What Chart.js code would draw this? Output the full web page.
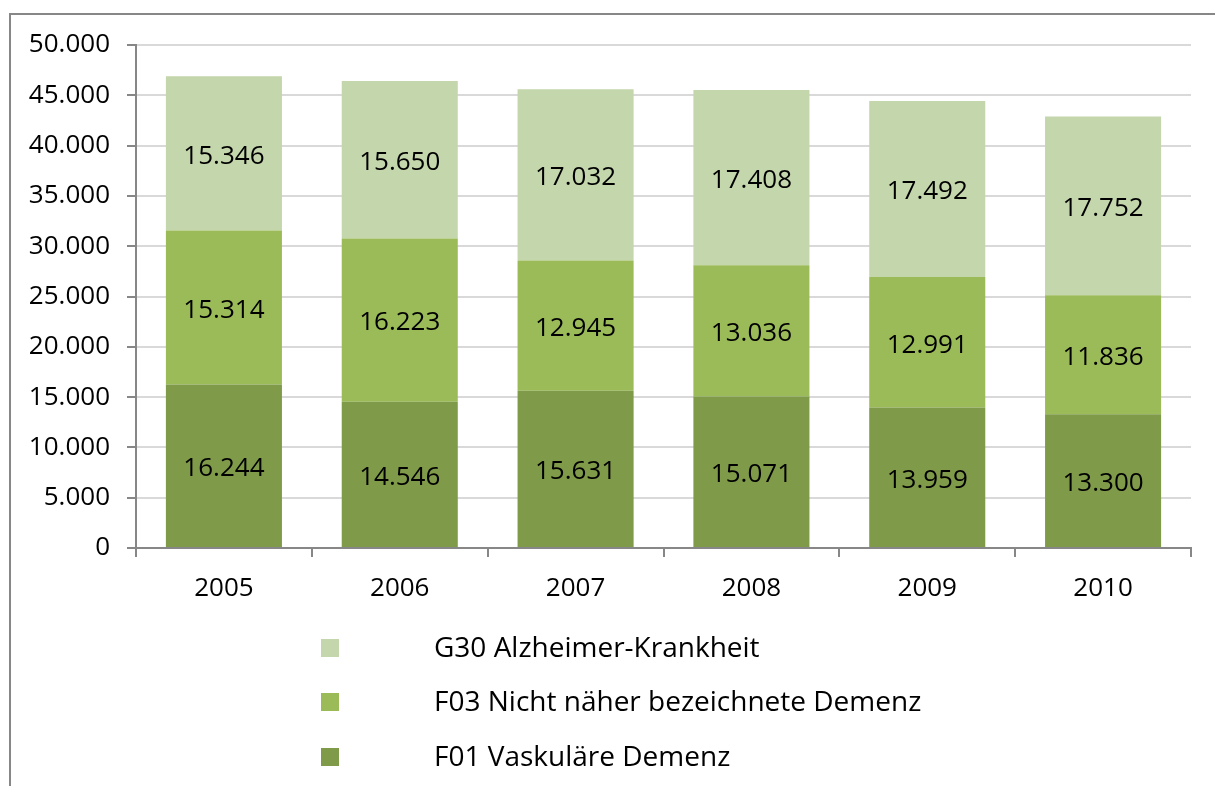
<!DOCTYPE html>
<html>
<head>
<meta charset="utf-8">
<script src="https://cdn.jsdelivr.net/npm/chart.js@4"></script>
<style>
  html, body { margin: 0; padding: 0; background: #fff; }
  #wrap { position: relative; width: 1215px; height: 786px; overflow: hidden; }
  #frame { position: absolute; left: 9px; top: 13px; width: 1300px; height: 900px; border-left: 2px solid #878787; border-top: 2px solid #878787; }
  canvas { position: absolute; left: 0; top: 0; }
</style>
</head>
<body>
<div id="wrap">
  <div id="frame"></div>
  <canvas id="c" width="1215" height="786"></canvas>
</div>
<script>
const years = ['2005', '2006', '2007', '2008', '2009', '2010'];
const f01Vaskulaer = [16244, 14546, 15631, 15071, 13959, 13300];
const f03NichtNaeher = [15314, 16223, 12945, 13036, 12991, 11836];
const g30Alzheimer = [15346, 15650, 17032, 17408, 17492, 17752];
const seriesLabels = ['F01 Vaskuläre Demenz', 'F03 Nicht näher bezeichnete Demenz', 'G30 Alzheimer-Krankheit'];
const yMax = 50000;
const yStep = 5000;

const FONT = '"Open Sans", Lato, sans-serif';
const colors = ['#7F9A48', '#9BBB59', '#C4D6AB'];

function fmt(v) {
  const s = String(Math.round(v));
  return s.replace(/\B(?=(\d{3})+(?!\d))/g, '.');
}

const dataLabels = {
  id: 'dataLabels',
  afterDatasetsDraw(chart) {
    const ctx = chart.ctx;
    ctx.save();
    ctx.font = '26px ' + FONT;
    ctx.fillStyle = '#000';
    ctx.textAlign = 'center';
    ctx.textBaseline = 'middle';
    chart.data.datasets.forEach((ds, i) => {
      const meta = chart.getDatasetMeta(i);
      meta.data.forEach((bar, j) => {
        const cy = (bar.y + bar.base) / 2;
        ctx.fillText(fmt(ds.data[j]), bar.x, cy + 3);
      });
    });
    ctx.restore();
  }
};

const customLegend = {
  id: 'customLegend',
  afterDraw(chart) {
    const ctx = chart.ctx;
    ctx.save();
    ctx.font = '28px ' + FONT;
    ctx.textBaseline = 'middle';
    ctx.textAlign = 'left';
    const order = [2, 1, 0];
    const rowsY = [648, 702, 757];
    order.forEach((di, k) => {
      const ds = chart.data.datasets[di];
      const y = rowsY[k];
      ctx.fillStyle = ds.backgroundColor;
      ctx.fillRect(321, y - 9, 18, 18);
      ctx.fillStyle = '#000';
      ctx.fillText(ds.label, 434, y + 1);
    });
    ctx.restore();
  }
};

new Chart(document.getElementById('c'), {
  type: 'bar',
  data: {
    labels: years,
    datasets: [
      { label: seriesLabels[0], data: f01Vaskulaer, backgroundColor: colors[0] },
      { label: seriesLabels[1], data: f03NichtNaeher, backgroundColor: colors[1] },
      { label: seriesLabels[2], data: g30Alzheimer, backgroundColor: colors[2] }
    ]
  },
  options: {
    responsive: false,
    animation: false,
    devicePixelRatio: 1,
    layout: { padding: { top: 45, right: 24, left: 0, bottom: 0 } },
    datasets: { bar: { categoryPercentage: 1, barPercentage: 0.66, borderWidth: 0 } },
    plugins: { legend: { display: false }, tooltip: { enabled: false } },
    scales: {
      x: {
        stacked: true,
        afterFit(s) { s.height = 238; },
        grid: { offset: true, drawOnChartArea: false, tickLength: 9, color: '#878787', lineWidth: 2 },
        border: { color: '#878787', width: 2 },
        ticks: { font: { family: FONT, size: 26 }, color: '#000', padding: 16, maxRotation: 0 }
      },
      y: {
        stacked: true,
        min: 0, max: yMax,
        afterFit(s) { s.width = 136; },
        grid: { color: '#D9D9D9', lineWidth: 2, tickLength: 9, tickColor: '#878787', tickWidth: 2 },
        border: { color: '#878787', width: 2 },
        ticks: { stepSize: yStep, font: { family: FONT, size: 26 }, color: '#000', padding: 17, callback: v => fmt(v) }
      }
    }
  },
  plugins: [dataLabels, customLegend]
});
</script>
</body>
</html>
